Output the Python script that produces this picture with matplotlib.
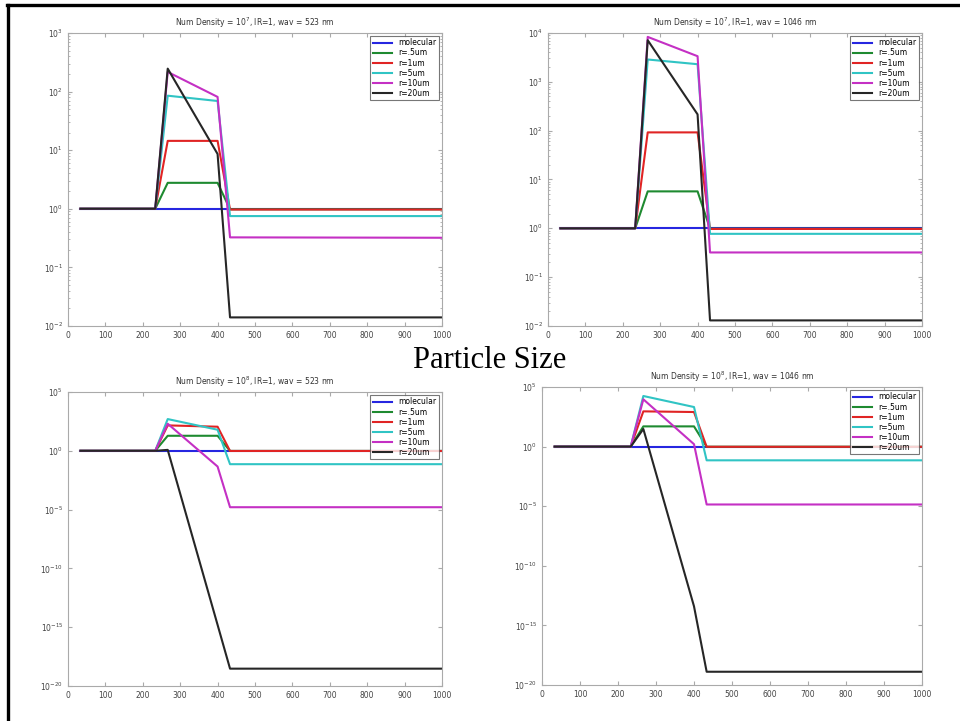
import numpy as np
import matplotlib
matplotlib.use("Agg")
import matplotlib.pyplot as plt
from matplotlib.lines import Line2D
from matplotlib.ticker import LogLocator, NullFormatter

# x positions of the model layers
x = [33.3, 233.3, 266.7, 400, 433.3, 1000]

labels = ["molecular", "r=.5um", "r=1um", "r=5um", "r=10um", "r=20um"]
colors = ["#2626e0", "#1e8a30", "#e02424", "#30c4c4", "#c430c4", "#262626"]

# Num density 1e7, wav 523 nm
p1_mol = [1, 1, 1, 1, 1, 1]
p1_r05 = [1, 1, 2.77, 2.77, 0.98, 0.98]
p1_r1 = [1, 1, 14.4, 14.4, 0.97, 0.97]
p1_r5 = [1, 1, 85, 69, 0.75, 0.75]
p1_r10 = [1, 1, 216, 81, 0.325, 0.32]
p1_r20 = [1, 1, 246, 8.6, 0.014, 0.014]

# Num density 1e7, wav 1046 nm
p2_mol = [1, 1, 1, 1, 1, 1]
p2_r05 = [1, 1, 5.7, 5.7, 0.98, 0.98]
p2_r1 = [1, 1, 92, 92, 0.97, 0.97]
p2_r5 = [1, 1, 2860, 2290, 0.77, 0.77]
p2_r10 = [1, 1, 8300, 3340, 0.32, 0.32]
p2_r20 = [1, 1, 7100, 215, 0.013, 0.013]

# Num density 1e8, wav 523 nm
p3_mol = [1, 1, 1, 1, 1, 1]
p3_r05 = [1, 1, 19, 19, 0.98, 0.98]
p3_r1 = [1, 1, 145, 112, 0.97, 0.97]
p3_r5 = [1, 1, 500, 62, 0.073, 0.073]
p3_r10 = [1, 1, 200, 0.046, 1.6e-5, 1.6e-5]
p3_r20 = [1, 1, 1.2, 1.6e-15, 3e-19, 3e-19]

# Num density 1e8, wav 1046 nm
p4_mol = [1, 1, 1, 1, 1, 1]
p4_r05 = [1, 1, 50, 50, 0.98, 0.98]
p4_r1 = [1, 1, 910, 800, 0.97, 0.97]
p4_r5 = [1, 1, 17700, 2100, 0.071, 0.071]
p4_r10 = [1, 1, 9300, 1.6, 1.4e-5, 1.4e-5]
p4_r20 = [1, 1, 30, 4e-14, 1.3e-19, 1.3e-19]

titles = ["Num Density = 10$^7$, IR=1, wav = 523 nm",
          "Num Density = 10$^7$, IR=1, wav = 1046 nm",
          "Num Density = 10$^8$, IR=1, wav = 523 nm",
          "Num Density = 10$^8$, IR=1, wav = 1046 nm"]

panels = [[p1_mol, p1_r05, p1_r1, p1_r5, p1_r10, p1_r20],
          [p2_mol, p2_r05, p2_r1, p2_r5, p2_r10, p2_r20],
          [p3_mol, p3_r05, p3_r1, p3_r5, p3_r10, p3_r20],
          [p4_mol, p4_r05, p4_r1, p4_r5, p4_r10, p4_r20]]

ylims = [(1e-2, 1e3), (1e-2, 1e4), (1e-20, 1e5), (1e-20, 1e5)]
yticks = [[10.0**k for k in range(-2, 4)],
          [10.0**k for k in range(-2, 5)],
          [10.0**k for k in range(-20, 6, 5)],
          [10.0**k for k in range(-20, 6, 5)]]

positions = [[0.0708, 0.5479, 0.3896, 0.4064],
             [0.5708, 0.5479, 0.3896, 0.4064],
             [0.0708, 0.0485, 0.3896, 0.4078],
             [0.5646, 0.0499, 0.3958, 0.4133]]

fig = plt.figure(figsize=(9.6, 7.21), dpi=100)

for i in range(4):
    ax = fig.add_axes(positions[i])
    for ys, c, lab in zip(panels[i], colors, labels):
        ax.plot(x, ys, color=c, lw=1.5, label=lab)
    ax.set_yscale("log")
    ax.set_xlim(0, 1000)
    ax.set_ylim(ylims[i])
    ax.set_xticks(range(0, 1001, 100))
    ax.set_yticks(yticks[i])
    ax.yaxis.set_major_formatter(matplotlib.ticker.FuncFormatter(
        lambda v, p: "10$^{%d}$" % int(round(np.log10(v)))))
    if i < 2:
        ax.yaxis.set_minor_locator(LogLocator(base=10, subs=np.arange(2, 10), numticks=20))
        ax.yaxis.set_minor_formatter(NullFormatter())
    else:
        ax.yaxis.set_minor_locator(matplotlib.ticker.NullLocator())
    ax.tick_params(which="both", direction="in", top=True, right=True,
                   labelsize=5.5, colors="#aaaaaa", labelcolor="#444444")
    ax.tick_params(which="major", length=3)
    ax.tick_params(which="minor", length=1.5)
    for s in ax.spines.values():
        s.set_color("#aaaaaa")
        s.set_linewidth(0.8)
    ax.set_title(titles[i], fontsize=5.5, color="#333333", pad=5)
    leg = ax.legend(loc="upper right", fontsize=5.5, fancybox=False,
                    handlelength=2.6, borderpad=0.3, labelspacing=0.15,
                    borderaxespad=0.4)
    leg.get_frame().set_edgecolor("#555555")
    leg.get_frame().set_linewidth(0.8)

fig.text(0.51, 0.50, "Particle Size", fontsize=22, family="Liberation Serif",
         ha="center", va="center")

# slide border (top and left edges)
fig.add_artist(Line2D([0.0075, 1.0], [0.993, 0.993], transform=fig.transFigure,
                      color="black", lw=2.4))
fig.add_artist(Line2D([0.0085, 0.0085], [0.0, 0.993], transform=fig.transFigure,
                      color="black", lw=2.4))

fig.savefig("out.png", dpi=100)
